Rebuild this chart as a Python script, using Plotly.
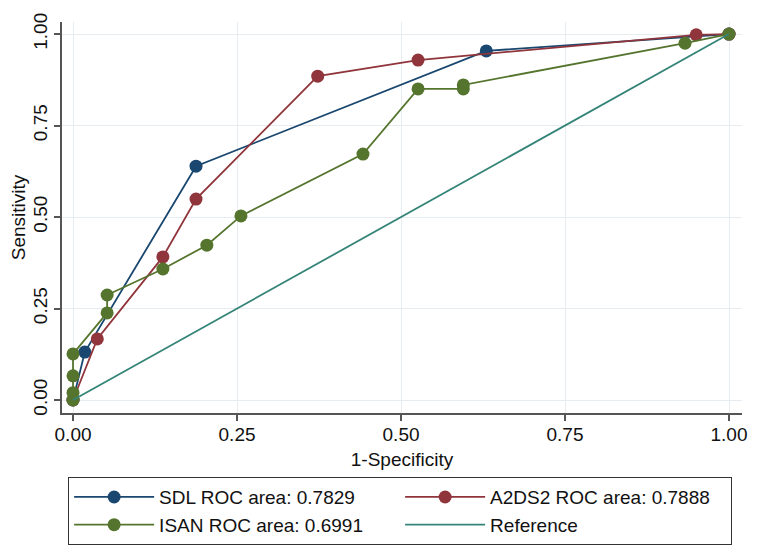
import plotly.graph_objects as go

# SDL
sdl_x = [0.0, 0.018, 0.1875, 0.630, 1.0]
sdl_y = [0.0, 0.131, 0.639, 0.954, 1.0]
# A2DS2
a2_x = [0.0, 0.037, 0.137, 0.1875, 0.373, 0.526, 0.950, 1.0]
a2_y = [0.0, 0.167, 0.391, 0.549, 0.885, 0.929, 0.998, 1.0]
# ISAN
isan_x = [0.0, 0.0, 0.0, 0.0, 0.052, 0.052, 0.137, 0.204, 0.256, 0.442, 0.526, 0.595, 0.595, 0.933, 1.0]
isan_y = [0.0, 0.02, 0.066, 0.126, 0.238, 0.287, 0.358, 0.423, 0.503, 0.672, 0.850, 0.850, 0.861, 0.975, 1.0]
# Reference
ref_x = [0.0, 1.0]
ref_y = [0.0, 1.0]

names = ["SDL ROC area: 0.7829", "A2DS2 ROC area: 0.7888", "ISAN ROC area: 0.6991", "Reference"]
tick_vals = [0, 0.25, 0.5, 0.75, 1.0]
tick_text = ["0.00", "0.25", "0.50", "0.75", "1.00"]

c_sdl = "#1a476f"
c_a2 = "#90353b"
c_isan = "#55752f"
c_ref = "#358478"

font_family = "Liberation Sans, Arial, sans-serif"

fig = go.Figure()
fig.add_trace(go.Scatter(x=sdl_x, y=sdl_y, mode="lines+markers", name=names[0],
                         line=dict(color=c_sdl, width=1.8), marker=dict(color=c_sdl, size=13)))
fig.add_trace(go.Scatter(x=a2_x, y=a2_y, mode="lines+markers", name=names[1],
                         line=dict(color=c_a2, width=1.8), marker=dict(color=c_a2, size=13)))
fig.add_trace(go.Scatter(x=isan_x, y=isan_y, mode="lines+markers", name=names[2],
                         line=dict(color=c_isan, width=1.8), marker=dict(color=c_isan, size=13)))
fig.add_trace(go.Scatter(x=ref_x, y=ref_y, mode="lines", name=names[3],
                         line=dict(color=c_ref, width=1.8)))

axis_common = dict(
    showline=True, linecolor="#555555", linewidth=1.5,
    ticks="outside", ticklen=6, tickcolor="#555555", tickwidth=1.5,
    showgrid=True, gridcolor="#e6ecef", gridwidth=1,
    zeroline=False, automargin=False,
    tickvals=tick_vals, ticktext=tick_text,
    tickfont=dict(size=19, color="#111111", family=font_family),
)

fig.update_layout(
    width=757, height=542,
    paper_bgcolor="white", plot_bgcolor="white",
    margin=dict(l=54, r=23, t=14, b=137, autoexpand=False),
    font=dict(family=font_family, size=19, color="#111111"),
    xaxis=dict(range=[-0.0168, 1.0198], ticklabelstandoff=-3,
               title=dict(text="1-Specificity", standoff=9, font=dict(size=19)), **axis_common),
    yaxis=dict(range=[-0.0355, 1.033], tickangle=-90,
               title=dict(text="Sensitivity", standoff=0, font=dict(size=19)), **axis_common),
    showlegend=True,
    legend=dict(
        orientation="h", x=0.009, xanchor="left", y=-0.164, yanchor="top",
        bgcolor="white", bordercolor="#333333", borderwidth=1,
        font=dict(size=19, family=font_family),
        itemwidth=80, entrywidth=236, traceorder="normal",
        tracegroupgap=0,
    ),
)

fig.write_html("out.html")
